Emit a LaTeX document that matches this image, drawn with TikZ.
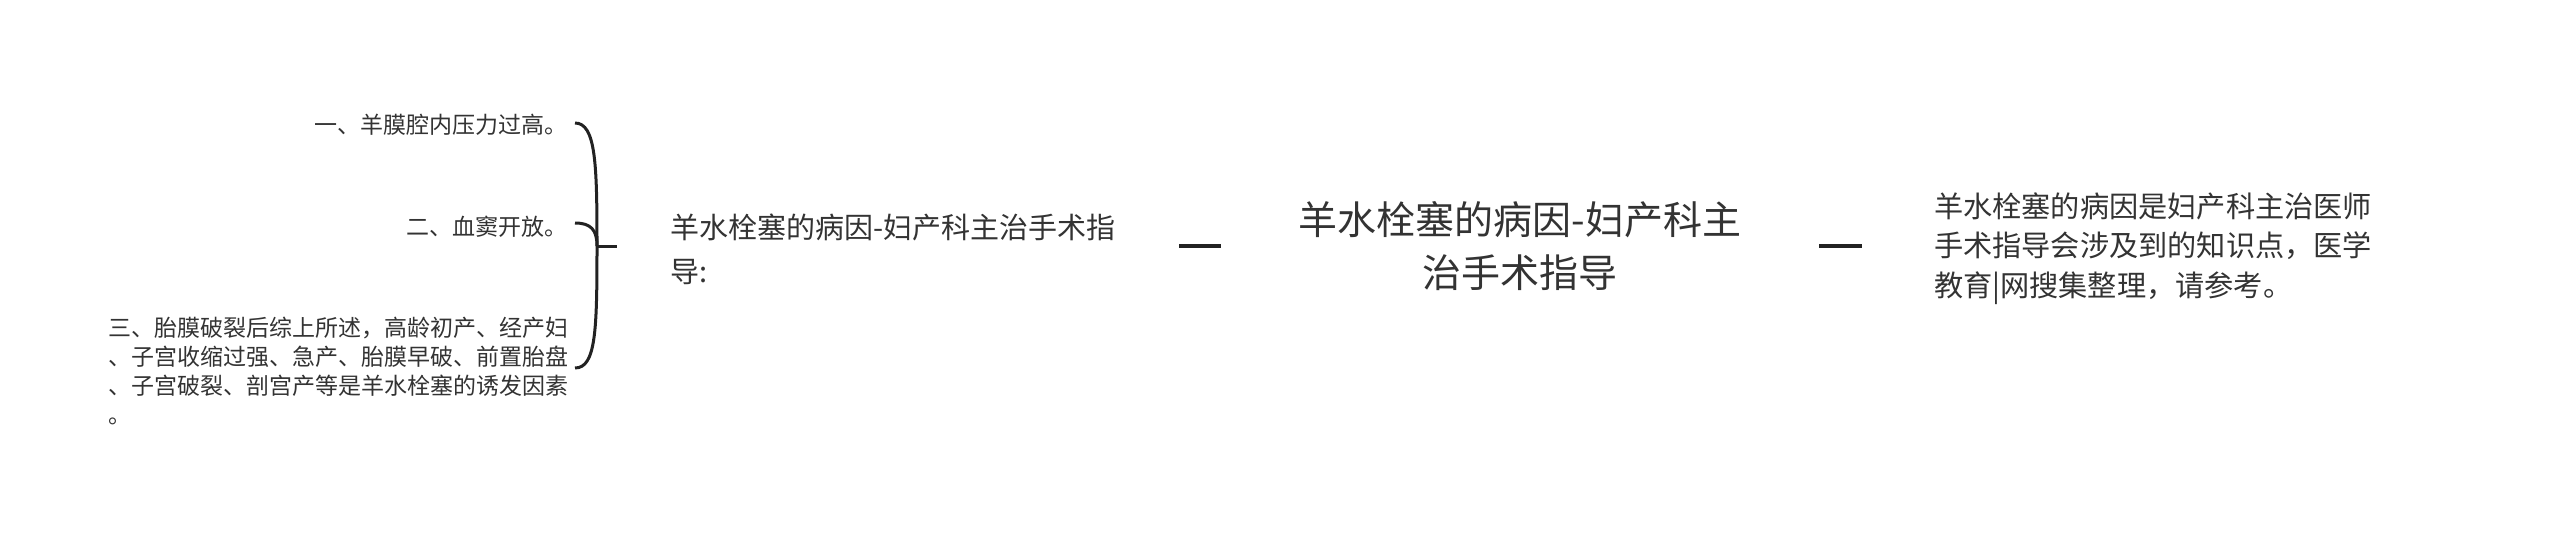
\documentclass[tikz,border=0pt]{standalone}
\usepackage{fontspec}
\setmainfont{Noto Sans CJK SC}
\definecolor{txt}{HTML}{333333}
\definecolor{ln}{HTML}{222222}
\begin{document}
\begin{tikzpicture}[x=1pt,y=-1pt,
  every node/.style={inner sep=0pt,outer sep=0pt,text=txt},
  leaf/.style={font=\fontsize{23}{29}\selectfont},
  mid/.style={font=\fontsize{29}{44}\selectfont,align=left,anchor=west},
  root/.style={font=\fontsize{39}{53}\selectfont,align=center},
  note/.style={font=\fontsize{29.2}{39.5}\selectfont,align=left,anchor=west},
  brace/.style={draw=ln,line width=3pt},
  dashline/.style={draw=ln,line width=4pt}]
\useasboundingbox (0,0) rectangle (2560,536);
\fill[white] (0,0) rectangle (2560,536);
% leaves
\node[leaf,anchor=east] (l1) at (567,125) {一、羊膜腔内压力过高。};
\node[leaf,anchor=east] (l2) at (567,227) {二、血窦开放。};
\node[leaf,anchor=west,align=left] (l3) at (108,370.5) {三、胎膜破裂后综上所述，高龄初产、经产妇\\、子宫收缩过强、急产、胎膜早破、前置胎盘\\、子宫破裂、剖宫产等是羊水栓塞的诱发因素\\。};
% brace
\coordinate (hub) at (597,246);
\coordinate (e1) at (575,123);
\coordinate (e2) at (575,223);
\coordinate (e3) at (575,368);
\coordinate (s) at (617,246);
\draw[brace] (hub) .. controls (597,165) and (596,123) .. (e1);
\draw[brace] (hub) .. controls (597,330) and (596,368) .. (e3);
\draw[brace] (hub) .. controls (597,230) and (591,223) .. (e2);
\draw[brace] (hub) -- (s);
% middle text
\node[mid] (m) at (670,249) {羊水栓塞的病因-妇产科主治手术指\\导:};
% root
\node[root] (r) at (1520,246.5) {羊水栓塞的病因-妇产科主\\治手术指导};
% note
\node[note] (n) at (1934,248.5) {羊水栓塞的病因是妇产科主治医师\\手术指导会涉及到的知识点，医学\\教育|网搜集整理，请参考。};
% connectors
\coordinate (a1) at (1179,246);
\coordinate (a2) at (1221,246);
\coordinate (b1) at (1819,246);
\coordinate (b2) at (1862,246);
\draw[dashline] (a1) -- (a2);
\draw[dashline] (b1) -- (b2);
\end{tikzpicture}
\end{document}
